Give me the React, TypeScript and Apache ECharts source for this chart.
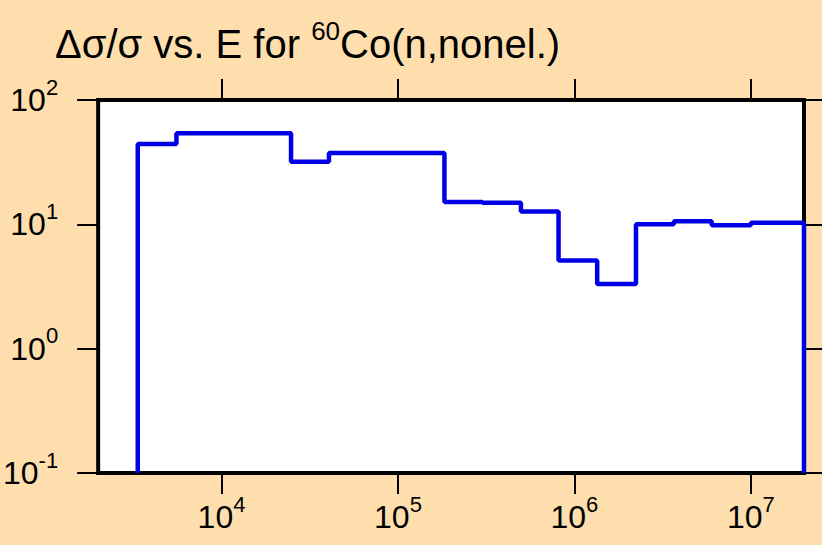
import React, { useEffect, useRef } from 'react';
import * as echarts from 'echarts';

// Energy group boundaries (eV) and relative uncertainty Δσ/σ (%) per group
const binEdgesEV = [3353, 5555, 9090, 15120, 24780, 40640, 65770, 110700, 183400, 301500, 497700, 812800, 1346000, 2233000, 3660000, 6000000, 10000000, 20000000];
const deltaSigmaPct = [44.2, 53.9, 54.0, 54.0, 31.8, 37.4, 37.4, 37.4, 15.1, 14.9, 12.7, 5.11, 3.31, 10.0, 10.6, 9.84, 10.3];
const xTickValues = [1e4, 1e5, 1e6, 1e7];
const yTickValues = [0.1, 1, 10, 100];
const titleMain = 'Δσ/σ vs. E for ';
const titleMass = '60';
const titleRest = 'Co(n,nonel.)';

const FONT = '"Liberation Sans", Arial, Helvetica, sans-serif';

export default function App() {
  const ref = useRef<HTMLDivElement>(null);
  useEffect(() => {
    const chart = echarts.init(ref.current!, null, { renderer: 'svg' });
    const floor = 0.1;
    const data: [number, number][] = [[binEdgesEV[0], floor]];
    deltaSigmaPct.forEach((v, i) => data.push([binEdgesEV[i], v]));
    const lastEdge = binEdgesEV[binEdgesEV.length - 1];
    data.push([lastEdge, deltaSigmaPct[deltaSigmaPct.length - 1]]);
    data.push([lastEdge, floor]);

    const rich = {
      b: { fontSize: 32, lineHeight: 48, fontFamily: FONT, color: '#000' },
      s: { fontSize: 22, height: 22, lineHeight: 22, verticalAlign: 'top', fontFamily: FONT, color: '#000' },
    };
    const fmt = (v: number) => '{b|10}{s|' + Math.round(Math.log10(v)) + '}';
    const tick = { show: true, inside: false, length: 21, lineStyle: { color: '#000', width: 2 } };

    const xBase = {
      type: 'log' as const,
      logBase: 10,
      min: 2000,
      max: 2e7,
      splitLine: { show: false },
      minorTick: { show: false },
      axisLine: { show: false },
    };
    const yBase = {
      type: 'log' as const,
      logBase: 10,
      min: 0.1,
      max: 100,
      splitLine: { show: false },
      minorTick: { show: false },
      axisLine: { show: false },
    };

    chart.setOption({
      animation: false,
      backgroundColor: '#FFDEAD',
      title: {
        text: '{b|' + titleMain + '}{s|' + titleMass + '}{b|' + titleRest + '}',
        left: 55,
        top: 18,
        padding: 0,
        textStyle: {
          fontWeight: 'normal',
          rich: {
            b: { fontSize: 40, fontWeight: 'normal', lineHeight: 51, fontFamily: FONT, color: '#000' },
            s: { fontSize: 26, fontWeight: 'normal', height: 26, lineHeight: 26, verticalAlign: 'top', fontFamily: FONT, color: '#000' },
          },
        },
      },
      grid: {
        left: 96,
        top: 100,
        width: 708,
        height: 373,
        show: true,
        backgroundColor: '#ffffff',
        borderColor: '#000',
        borderWidth: 4,
      },
      xAxis: [
        {
          ...xBase,
          position: 'bottom',
          axisTick: { ...tick, customValues: xTickValues },
          axisLabel: { show: true, margin: 20, customValues: xTickValues, formatter: fmt, rich },
        },
        {
          ...xBase,
          position: 'top',
          axisTick: { ...tick, customValues: xTickValues },
          axisLabel: { show: false },
        },
      ],
      yAxis: [
        {
          ...yBase,
          position: 'left',
          axisTick: { ...tick, customValues: yTickValues },
          axisLabel: { show: true, margin: 40, customValues: yTickValues, formatter: fmt, rich },
        },
        {
          ...yBase,
          position: 'right',
          axisTick: { ...tick, customValues: yTickValues },
          axisLabel: { show: false },
        },
      ],
      series: [
        {
          type: 'line',
          xAxisIndex: 0,
          yAxisIndex: 0,
          step: 'end',
          data,
          showSymbol: false,
          symbol: 'none',
          lineStyle: { color: '#0000E6', width: 4.5 },
          clip: true,
          z: 5,
        },
      ],
    });
    return () => chart.dispose();
  }, []);
  return <div ref={ref} style={{ position: 'fixed', left: 0, top: 0, width: 822, height: 545 }} />;
}
